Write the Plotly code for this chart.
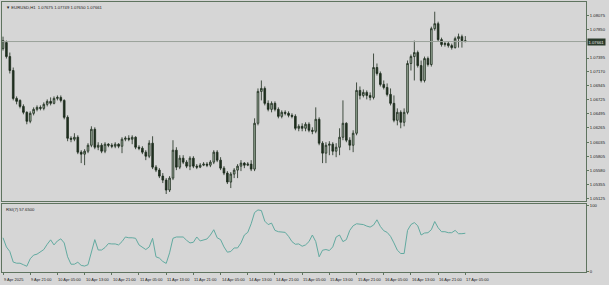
import plotly.graph_objects as go

# ---- data (EURUSD H1) ----
opens = [1.07547,1.07644,1.07418,1.07193,1.06742,1.06710,1.06613,1.06517,1.06372,1.06501,
1.06565,1.06597,1.06581,1.06646,1.06694,1.06662,1.06742,1.06758,1.06710,1.06436,
1.06098,1.06082,1.06114,1.05873,1.05841,1.05889,1.05985,1.06243,1.05953,1.05985,
1.05889,1.06002,1.05985,1.05969,1.06002,1.05969,1.06082,1.06098,1.06082,1.06114,
1.05953,1.05937,1.05873,1.05808,1.06018,1.05631,1.05583,1.05486,1.05422,1.05261,
1.05454,1.05905,1.05631,1.05776,1.05712,1.05647,1.05776,1.05647,1.05631,1.05663,
1.05680,1.05663,1.05712,1.05873,1.05744,1.05615,1.05535,1.05390,1.05519,1.05583,
1.05647,1.05696,1.05663,1.05680,1.05599,1.06340,1.06855,1.06903,1.06662,1.06565,
1.06662,1.06565,1.06452,1.06517,1.06501,1.06468,1.06452,1.06259,1.06291,1.06259,
1.06324,1.06227,1.06211,1.06404,1.06018,1.05857,1.05985,1.06002,1.05889,1.05953,
1.06114,1.06340,1.06066,1.05985,1.06179,1.06871,1.06790,1.06839,1.06790,1.06758,
1.07241,1.07145,1.06968,1.06919,1.06807,1.06662,1.06388,1.06517,1.06356,1.06517,
1.07306,1.07418,1.07483,1.07273,1.07032,1.07386,1.07290,1.07869,1.07950,1.07692,
1.07612,1.07628,1.07595,1.07563,1.07708,1.07740,1.07675]

highs = [1.07740,1.07676,1.07483,1.07241,1.06774,1.06726,1.06646,1.06533,1.06533,1.06597,
1.06629,1.06629,1.06678,1.06726,1.06758,1.06774,1.06790,1.06790,1.06726,1.06468,
1.06130,1.06179,1.06146,1.05905,1.05921,1.06018,1.06291,1.06275,1.06034,1.06018,
1.06034,1.06018,1.06018,1.06034,1.06018,1.06114,1.06130,1.06146,1.06146,1.06130,
1.05985,1.05969,1.05905,1.06066,1.06130,1.05663,1.05615,1.05535,1.05454,1.05486,
1.06066,1.05953,1.05824,1.05824,1.05744,1.05808,1.05808,1.05680,1.05696,1.05712,
1.05712,1.05744,1.05905,1.05905,1.05792,1.05647,1.05567,1.05551,1.05615,1.05680,
1.05744,1.05712,1.05712,1.05744,1.06420,1.06903,1.07032,1.06935,1.06710,1.06694,
1.06694,1.06597,1.06549,1.06549,1.06533,1.06501,1.06485,1.06324,1.06340,1.06356,
1.06356,1.06275,1.06597,1.06436,1.06050,1.06034,1.06050,1.06034,1.06018,1.06259,
1.06710,1.06356,1.06114,1.06227,1.07000,1.06935,1.06887,1.06871,1.06839,1.07467,
1.07306,1.07177,1.07032,1.06984,1.06903,1.06790,1.06581,1.06549,1.06581,1.07354,
1.07451,1.07676,1.07515,1.07354,1.07418,1.07418,1.07901,1.08143,1.07982,1.07724,
1.07660,1.07660,1.07628,1.07740,1.07789,1.07773,1.07749]

lows = [1.07515,1.07386,1.07145,1.06710,1.06646,1.06581,1.06485,1.06324,1.06340,1.06468,
1.06533,1.06549,1.06549,1.06613,1.06629,1.06646,1.06710,1.06678,1.06404,1.06050,
1.06034,1.06050,1.05841,1.05696,1.05663,1.05857,1.05953,1.05921,1.05905,1.05857,
1.05857,1.05953,1.05937,1.05937,1.05937,1.05857,1.06050,1.06050,1.06002,1.05921,
1.05905,1.05841,1.05744,1.05776,1.05599,1.05551,1.05454,1.05374,1.05197,1.05229,
1.05422,1.05583,1.05599,1.05680,1.05615,1.05583,1.05615,1.05599,1.05615,1.05647,
1.05631,1.05631,1.05680,1.05712,1.05583,1.05502,1.05358,1.05293,1.05454,1.05454,
1.05567,1.05615,1.05647,1.05567,1.05567,1.06307,1.06710,1.06629,1.06533,1.06517,
1.06533,1.06420,1.06420,1.06468,1.06436,1.06420,1.06227,1.06211,1.06211,1.06211,
1.06195,1.06163,1.06179,1.05985,1.05696,1.05696,1.05824,1.05824,1.05792,1.05824,
1.06066,1.06034,1.05905,1.05873,1.06146,1.06726,1.06758,1.06726,1.06710,1.06726,
1.07112,1.06935,1.06887,1.06774,1.06629,1.06356,1.06307,1.06259,1.06291,1.06485,
1.07193,1.07032,1.07241,1.07000,1.07000,1.07257,1.07257,1.07837,1.07660,1.07579,
1.07579,1.07563,1.07531,1.07547,1.07563,1.07563,1.07650]

closes = [1.07676,1.07418,1.07193,1.06742,1.06694,1.06613,1.06517,1.06372,1.06501,1.06565,
1.06597,1.06581,1.06646,1.06694,1.06662,1.06742,1.06758,1.06710,1.06436,1.06098,
1.06082,1.06114,1.05873,1.05841,1.05889,1.05985,1.06243,1.05953,1.05985,1.05889,
1.06002,1.05985,1.05969,1.06002,1.05969,1.06082,1.06098,1.06082,1.06114,1.05953,
1.05937,1.05873,1.05808,1.06018,1.05631,1.05583,1.05486,1.05422,1.05261,1.05454,
1.05905,1.05631,1.05776,1.05712,1.05647,1.05776,1.05647,1.05631,1.05663,1.05680,
1.05663,1.05712,1.05873,1.05744,1.05615,1.05535,1.05390,1.05519,1.05583,1.05647,
1.05696,1.05663,1.05680,1.05599,1.06340,1.06855,1.06903,1.06662,1.06565,1.06662,
1.06565,1.06452,1.06517,1.06501,1.06468,1.06452,1.06259,1.06291,1.06259,1.06324,
1.06227,1.06211,1.06404,1.06018,1.05857,1.05985,1.06002,1.05889,1.05953,1.06114,
1.06340,1.06066,1.05985,1.06179,1.06871,1.06790,1.06839,1.06790,1.06758,1.07241,
1.07145,1.06968,1.06919,1.06807,1.06662,1.06388,1.06517,1.06356,1.06517,1.07306,
1.07418,1.07483,1.07273,1.07032,1.07386,1.07290,1.07869,1.07950,1.07692,1.07612,
1.07628,1.07595,1.07563,1.07708,1.07740,1.07675,1.07661]

rsi7 = [50.8,36.9,30.0,14.0,12.3,12.3,10.0,7.7,19.0,24.6,
26.0,29.0,33.0,41.0,47.7,40.0,46.0,49.2,43.0,22.0,
10.8,10.8,13.8,9.0,8.0,10.0,29.0,48.0,32.3,32.3,
36.0,42.0,41.5,41.5,40.0,45.0,52.0,50.8,50.8,50.0,
40.0,37.0,33.0,36.9,50.0,22.0,20.0,15.0,12.0,28.0,
50.0,52.0,51.5,52.0,47.0,43.0,44.0,52.0,46.0,47.0,
49.0,55.0,63.0,50.8,48.0,37.0,29.0,30.0,35.4,35.4,
43.0,55.0,59.0,72.0,89.0,93.0,92.0,76.0,70.8,73.0,
62.0,60.0,60.0,59.0,53.0,45.0,41.0,41.5,38.0,40.0,
45.0,55.0,45.0,22.0,32.0,33.0,31.5,37.0,52.0,55.0,
45.0,48.0,62.0,69.0,72.0,71.5,70.8,68.5,67.0,70.0,
78.0,68.0,61.5,59.0,53.0,43.0,32.0,27.0,27.0,62.0,
70.8,73.8,69.0,55.0,58.0,58.5,63.0,75.4,66.0,60.0,
60.0,58.5,58.5,62.0,57.0,57.0,57.65]

time_labels = ["9 Apr 2025", "9 Apr 21:00", "10 Apr 05:00", "10 Apr 13:00", "10 Apr 21:00",
               "11 Apr 05:00", "11 Apr 13:00", "11 Apr 21:00", "14 Apr 05:00", "14 Apr 13:00",
               "14 Apr 21:00", "15 Apr 05:00", "15 Apr 13:00", "15 Apr 21:00", "16 Apr 05:00",
               "16 Apr 13:00", "16 Apr 21:00", "17 Apr 05:00"]
label_step = 8
price_ticks = [1.08075, 1.07850, 1.07395, 1.07170, 1.06945, 1.06725, 1.06495,
               1.06265, 1.06035, 1.05805, 1.05580, 1.05355, 1.05125]
rsi_ticks = [0, 100]
symbol = "EURUSD,H1"
rsi_name = "RSI(7)"

# ---- figure ----
bars = list(range(len(closes)))
BG = "#d6d6d6"
FRAME = "#5f745f"
FONT = "Liberation Sans"

fig = go.Figure()
fig.add_trace(go.Candlestick(
    x=bars, open=opens, high=highs, low=lows, close=closes,
    increasing=dict(line=dict(color="#1c2b1c", width=0.8), fillcolor="#a3b5a3"),
    decreasing=dict(line=dict(color="#1c2b1c", width=0.8), fillcolor="#213121"),
    whiskerwidth=0, xaxis="x", yaxis="y", showlegend=False, hoverinfo="skip"))
fig.add_trace(go.Scatter(
    x=bars, y=rsi7, mode="lines", line=dict(color="#62aaa0", width=1),
    xaxis="x2", yaxis="y2", showlegend=False, hoverinfo="skip"))

xr = [-0.3, 171.5]
last = closes[-1]

annotations = []
for k, t in enumerate(time_labels):
    annotations.append(dict(x=k * label_step, y=-0.028, xref="x2", yref="paper", text=t,
                            showarrow=False, xanchor="left", yanchor="middle", xshift=-1,
                            font=dict(size=4, color="#222", family=FONT)))
annotations.append(dict(x=0.004, y=0.998, xref="paper", yref="paper",
                        text="\u25bc %s  %.5f %.5f %.5f %.5f" % (symbol, opens[-1], highs[-1], lows[-1], closes[-1]),
                        showarrow=False, xanchor="left", yanchor="top",
                        font=dict(size=4.2, color="#222", family=FONT)))
annotations.append(dict(x=0.004, y=0.25, xref="paper", yref="paper",
                        text="%s %.4f" % (rsi_name, rsi7[-1]),
                        showarrow=False, xanchor="left", yanchor="top",
                        font=dict(size=4.2, color="#222", family=FONT)))
annotations.append(dict(x=1.0, y=last, xref="paper", yref="y", text="%.5f" % last,
                        showarrow=False, xanchor="left", yanchor="middle", xshift=1,
                        bgcolor="#2a3a2a", borderpad=0.5,
                        font=dict(size=4.2, color="#e8e8e8", family=FONT)))

fig.update_layout(
    width=609, height=285,
    margin=dict(l=2, r=23, t=2, b=13),
    paper_bgcolor=BG, plot_bgcolor=BG,
    xaxis=dict(domain=[0, 1], anchor="y", range=xr, showgrid=False, zeroline=False,
               showticklabels=False, showline=True, linecolor=FRAME, linewidth=1, mirror=True,
               rangeslider=dict(visible=False), ticks=""),
    yaxis=dict(domain=[0.263, 1.0], anchor="x", side="right", range=[1.05084, 1.08300],
               tickvals=price_ticks, ticktext=["%.5f" % v for v in price_ticks],
               ticks="outside", ticklen=2, tickcolor=FRAME, showgrid=False, zeroline=False,
               showline=True, linecolor=FRAME, linewidth=1, mirror=True,
               tickfont=dict(size=4.2, color="#222", family=FONT)),
    xaxis2=dict(domain=[0, 1], anchor="y2", range=xr, showgrid=False, zeroline=False,
                tickvals=[k * label_step for k in range(len(time_labels))],
                showticklabels=False, ticks="outside", ticklen=2, tickcolor=FRAME,
                showline=True, linecolor=FRAME, linewidth=1, mirror=True),
    yaxis2=dict(domain=[0, 0.252], anchor="x2", side="right", range=[-1, 102],
                tickvals=rsi_ticks, ticktext=[str(v) for v in rsi_ticks],
                ticks="outside", ticklen=2, tickcolor=FRAME, showgrid=False, zeroline=False,
                showline=True, linecolor=FRAME, linewidth=1, mirror=True,
                tickfont=dict(size=4.2, color="#222", family=FONT)),
    shapes=[dict(type="line", xref="paper", yref="y", x0=0, x1=1, y0=last, y1=last,
                 line=dict(color="#9aa39a", width=1))],
    annotations=annotations,
)

fig.write_html("out.html")
